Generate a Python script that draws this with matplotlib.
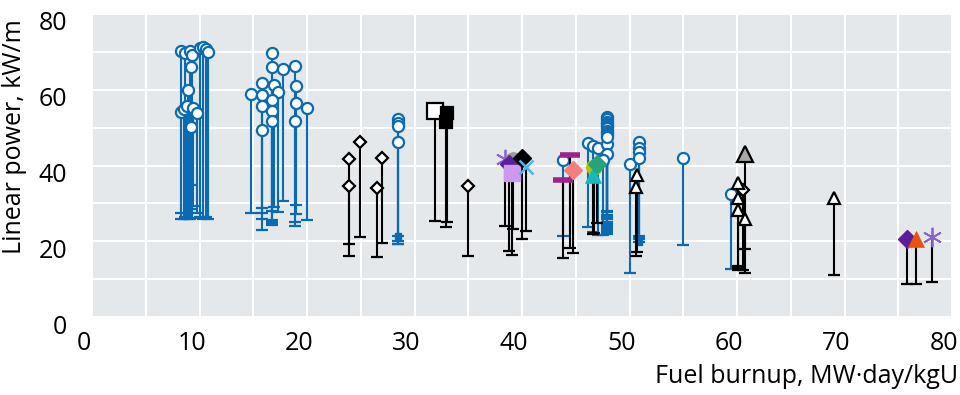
import matplotlib
matplotlib.use("Agg")
import matplotlib.pyplot as plt
import matplotlib.transforms as mtrans
import numpy as np

plt.rcParams['font.family'] = ['Open Sans', 'DejaVu Sans']

# ---------------- data ----------------
# blue open circles: burnup, upper power, lower power
blue_x = [8.25, 8.65, 9.1, 9.27, 9.2, 8.96, 8.3, 8.56, 8.8, 9.4, 9.8, 9.2, 10.05, 10.35, 10.6, 10.8,
          14.76, 15.8, 15.8, 15.8, 15.8, 16.77, 16.77, 16.93, 17.33, 16.77, 16.7, 16.7, 17.73, 18.9, 18.95, 18.95, 18.9, 19.97,
          28.5, 28.5, 28.5, 28.5,
          43.85,
          46.1, 46.6, 47.1, 47.9, 47.9, 47.5,
          47.9, 47.9, 47.9, 47.9, 47.9, 47.9, 47.9, 47.9, 47.9, 47.9,
          50.05, 50.9, 50.9, 50.9, 50.9,
          55.0, 59.4]
blue_top = [70.3, 69.8, 70.3, 69.1, 66.0, 60.0, 54.2, 54.8, 55.7, 55.3, 53.9, 50.2, 70.9, 71.2, 70.7, 70.0,
            58.8, 61.7, 58.6, 55.7, 49.3, 69.7, 66.1, 61.2, 59.5, 57.3, 54.5, 51.8, 65.6, 66.2, 60.9, 56.5, 51.8, 55.3,
            52.2, 51.3, 50.4, 46.2,
            41.4,
            46.0, 45.2, 44.7, 45.8, 43.0, 41.4,
            52.8, 52.2, 51.6, 51.0, 50.4, 49.8, 49.2, 48.6, 48.0, 47.4,
            40.3, 46.1, 44.5, 43.5, 42.1,
            41.9, 32.6]
blue_bot = [26.0, 26.5, 26.0, 26.2, 28.5, 26.0, 27.5, 26.0, 26.5, 29.3, 27.5, 34.8, 26.5, 26.0, 26.5, 26.0,
            27.4, 28.8, 27.4, 26.0, 23.0, 24.3, 25.5, 29.0, 27.6, 25.0, 28.0, 24.5, 30.5, 24.1, 29.5, 27.3, 25.0, 25.6,
            19.4, 21.4, 20.0, 19.4,
            21.5,
            23.8, 22.5, 21.6, 27.8, 26.5, 21.6,
            22.0, 23.0, 24.0, 25.0, 26.0, 27.0, 28.0, 22.5, 23.5, 24.5,
            11.7, 20.5, 21.0, 21.5, 19.7,
            19.0, 12.6]
# small blue squares at lower ends
bsq_x = [28.5, 50.9]
bsq_y = [21.4, 19.7]

# black open diamonds
bdia_x = [23.93, 23.93, 24.93, 26.95, 26.5, 34.95, 60.6]
bdia_top = [41.7, 34.6, 46.2, 42.1, 34.1, 34.6, 33.5]
bdia_bot = [19.4, 16.1, 21.2, 19.6, 15.9, 16.2, 12.5]

# black open square
bsqo_x = [31.9]
bsqo_top = [54.4]
bsqo_bot = [25.3]

# black filled squares
bsqf_x = [33.05, 32.9]
bsqf_top = [53.9, 51.5]
bsqf_bot = [25.2, 23.8]

# black open triangles
btri_x = [50.7, 50.65, 60.1, 60.06, 60.1, 60.75, 69.05]
btri_top = [37.5, 34.4, 35.3, 31.5, 28.2, 25.8, 31.3]
btri_bot = [17.2, 16.0, 12.4, 13.5, 13.0, 17.9, 11.1]

# single coloured points: x, top, bottom, marker, colour
sx = [38.4, 39.2, 38.8, 39.1, 40.0, 40.4, 44.47, 43.8, 44.7, 46.7, 46.6, 47.0, 60.75, 75.8, 76.65, 78.1]
stop = [41.6, 41.4, 40.3, 38.1, 41.9, 39.7, 42.7, 36.3, 38.9, 39.5, 37.5, 40.4, 43.0, 20.5, 20.5, 21.2]
sbot = [24.1, 23.3, 17.4, 16.5, 20.7, 22.8, 18.3, 15.6, 17.0, 22.3, 22.0, 24.9, 11.7, 8.7, 8.7, 9.2]
smark = ['ast', 'o', 'D', 's', 'D', 'x', 'bar', 'bar', 'D', 'o', '^', 'D', '^', 'D', '^', 'ast']
scol = ['#8a63d2', '#9a9a9a', '#5c1f99', '#cc99ee', '#000000', '#4fb3e8', '#a0218c', '#a0218c',
        '#f47f7f', '#b5c200', '#17b8b8', '#27a37a', '#a8a8a8', '#5c1f99', '#e8540f', '#8a63d2']

xticks = [0, 10, 20, 30, 40, 50, 60, 70, 80]
yticks = [0, 20, 40, 60, 80]

# ---------------- figure ----------------
W, H = 960, 395
fig = plt.figure(figsize=(W / 100, H / 100), dpi=100)
ax = fig.add_axes([92 / W, 1 - 317 / H, (952 - 92) / W, (317 - 14) / H])
ax.set_facecolor('#e5e8eb')
for s in ax.spines.values():
    s.set_visible(False)

ax.set_xlim(0, 80)
ax.set_ylim(0, 80)
ax.set_xticks(xticks)
ax.set_yticks(yticks)
ax.set_xticks([5, 15, 25, 35, 45, 55, 65, 75], minor=True)
ax.set_yticks([10, 30, 50, 70], minor=True)
ax.grid(True, which='both', color='white', lw=1.4)
ax.set_axisbelow(True)
ax.tick_params(which='both', length=0, labelsize=18)
ax.tick_params(axis='x', pad=10)
ax.tick_params(axis='y', pad=18)

BLUE = '#0a6ab4'
lw = 1.5

# blue series
ax.vlines(blue_x, blue_bot, blue_top, color=BLUE, lw=lw, zorder=2)
ax.plot(blue_x, blue_bot, ls='none', marker='_', ms=8, mew=1.6, color=BLUE, zorder=2)
ax.plot(bsq_x, bsq_y, ls='none', marker='s', ms=4.5, color=BLUE, zorder=2)
ax.plot(blue_x, blue_top, ls='none', marker='o', ms=8, mew=1.6, mfc='white', mec=BLUE, zorder=3)

# black series
def black_series(xs, tops, bots, marker, ms, mfc):
    ax.vlines(xs, bots, tops, color='black', lw=lw, zorder=4)
    ax.plot(xs, bots, ls='none', marker='_', ms=8, mew=1.6, color='black', zorder=4)
    ax.plot(xs, tops, ls='none', marker=marker, ms=ms, mew=1.6, mfc=mfc, mec='black', zorder=5)

black_series(bdia_x, bdia_top, bdia_bot, 'D', 6.5, 'white')
black_series(bsqo_x, bsqo_top, bsqo_bot, 's', 11, 'white')
black_series(bsqf_x, bsqf_top, bsqf_bot, 's', 8, 'black')
black_series(btri_x, btri_top, btri_bot, '^', 8, 'white')

# single coloured points
for x, t, b, m, c in zip(sx, stop, sbot, smark, scol):
    ax.vlines([x], [b], [t], color='black', lw=lw, zorder=4)
    ax.plot([x], [b], ls='none', marker='_', ms=8, mew=1.6, color='black', zorder=4)
    if m == 'ast':
        ax.plot([x], [t], ls='none', marker=(6, 2, 0), ms=14, mew=1.3, color=c, zorder=6)
    elif m == 'x':
        ax.plot([x], [t], ls='none', marker='x', ms=10, mew=1.8, color=c, zorder=6)
    elif m == 'bar':
        ax.plot([x], [t], ls='none', marker='_', ms=14, mew=4, color=c, zorder=6)
    elif m == 's':
        ax.plot([x], [t], ls='none', marker='s', ms=12, color=c, mec=c, zorder=6)
    elif m == 'D':
        ax.plot([x], [t], ls='none', marker='D', ms=9, color=c, mec=c, zorder=6)
    elif m == '^':
        ax.plot([x], [t], ls='none', marker='^', ms=11, color=c, mec='black' if c == '#a8a8a8' else c,
                mew=1.6 if c == '#a8a8a8' else 0.5, zorder=6)
    else:
        ax.plot([x], [t], ls='none', marker=m, ms=11, color=c, mec=c, zorder=6)

ax.set_xlabel('Fuel burnup, MW·day/kgU', loc='right', fontsize=18, labelpad=6)
ax.set_ylabel('Linear power, kW/m', loc='top', fontsize=18, labelpad=8)

# small offsets of labels as in the reference
offx = mtrans.ScaledTranslation(-8 / 100, 0, fig.dpi_scale_trans)
for lab in ax.get_xticklabels():
    lab.set_transform(lab.get_transform() + offx)
offy = mtrans.ScaledTranslation(0, -7 / 100, fig.dpi_scale_trans)
for lab in ax.get_yticklabels():
    lab.set_transform(lab.get_transform() + offy)

fig.canvas.draw()
xl = ax.xaxis.label
xl.set_transform(xl.get_transform() + mtrans.ScaledTranslation(6 / 100, 0, fig.dpi_scale_trans))
yl = ax.yaxis.label
yl.set_transform(yl.get_transform() + mtrans.ScaledTranslation(0, -5 / 100, fig.dpi_scale_trans))

fig.savefig('out.png', dpi=100)
